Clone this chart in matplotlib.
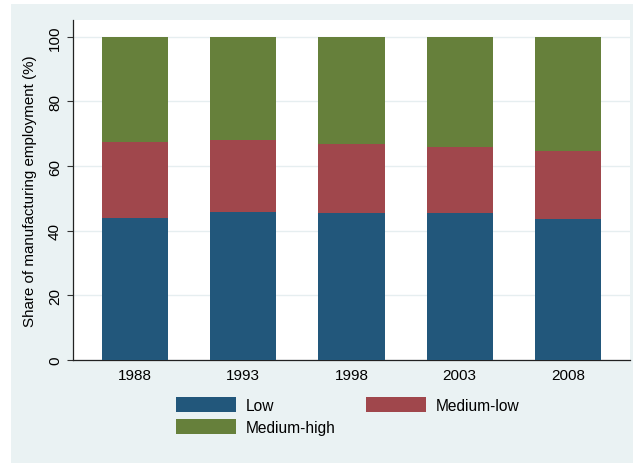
import numpy as np
import matplotlib.pyplot as plt
from matplotlib.patches import Rectangle, Patch

plt.rcParams['font.family'] = ['Liberation Sans', 'DejaVu Sans']

years = ['1988', '1993', '1998', '2003', '2008']
low = [44.0, 45.7, 45.4, 45.4, 43.7]
medium_low = [23.4, 22.3, 21.5, 20.6, 21.1]
medium_high = [32.6, 32.0, 33.1, 34.0, 35.2]

c_low = '#22577b'
c_medlow = '#a0474c'
c_medhigh = '#66803b'
bg = '#eaf2f3'

fig = plt.figure(figsize=(6.34, 4.64), dpi=100)
fig.patch.set_facecolor('white')
# light outer panel (stata graph region)
fig.patches.append(Rectangle((11 / 634, 0), (633 - 11) / 634, 1 - 5 / 464,
                             transform=fig.transFigure, facecolor=bg,
                             edgecolor='none', zorder=-10))

ax = fig.add_axes([73 / 634, 1 - 361 / 464, (630 - 73) / 634, (361 - 21) / 464])
ax.set_facecolor('white')

x = np.arange(len(years))
w = 0.61
ax.bar(x, low, w, color=c_low, zorder=3)
ax.bar(x, medium_low, w, bottom=low, color=c_medlow, zorder=3)
bottom2 = np.array(low) + np.array(medium_low)
ax.bar(x, medium_high, w, bottom=bottom2, color=c_medhigh, zorder=3)

ax.set_xlim(-0.573, 4.573)
ax.set_ylim(0, 105.2)
ax.set_xticks(x)
ax.set_xticklabels(years, fontsize=11)
ax.set_yticks([0, 20, 40, 60, 80, 100])
ax.set_yticklabels(['0', '20', '40', '60', '80', '100'], fontsize=11,
                   rotation=90, va='center')
ax.tick_params(axis='x', length=0, pad=6)
ax.tick_params(axis='y', length=4, width=0.8, color='#333333', pad=4)
ax.yaxis.grid(True, color='#e6eef0', linewidth=1, zorder=0)

for s in ['top', 'right']:
    ax.spines[s].set_visible(False)
for s in ['left', 'bottom']:
    ax.spines[s].set_color('#222222')
    ax.spines[s].set_linewidth(0.9)

ax.set_ylabel('Share of manufacturing employment (%)', fontsize=10.9, labelpad=8)

# column-wise fill: Low / Medium-high in first column, Medium-low in second
handles = [Patch(facecolor=c_low, label='Low'),
           Patch(facecolor=c_medhigh, label='Medium-high'),
           Patch(facecolor=c_medlow, label='Medium-low')]
fig.legend(handles=handles, ncol=2, loc='upper left',
           bbox_to_anchor=(176 / 634, 1 - 398 / 464),
           frameon=False, fontsize=11.2, borderpad=0, borderaxespad=0,
           handlelength=3.85, handleheight=1.1, handletextpad=0.65,
           columnspacing=1.95, labelspacing=0.4)

fig.savefig('out.png', dpi=100)
